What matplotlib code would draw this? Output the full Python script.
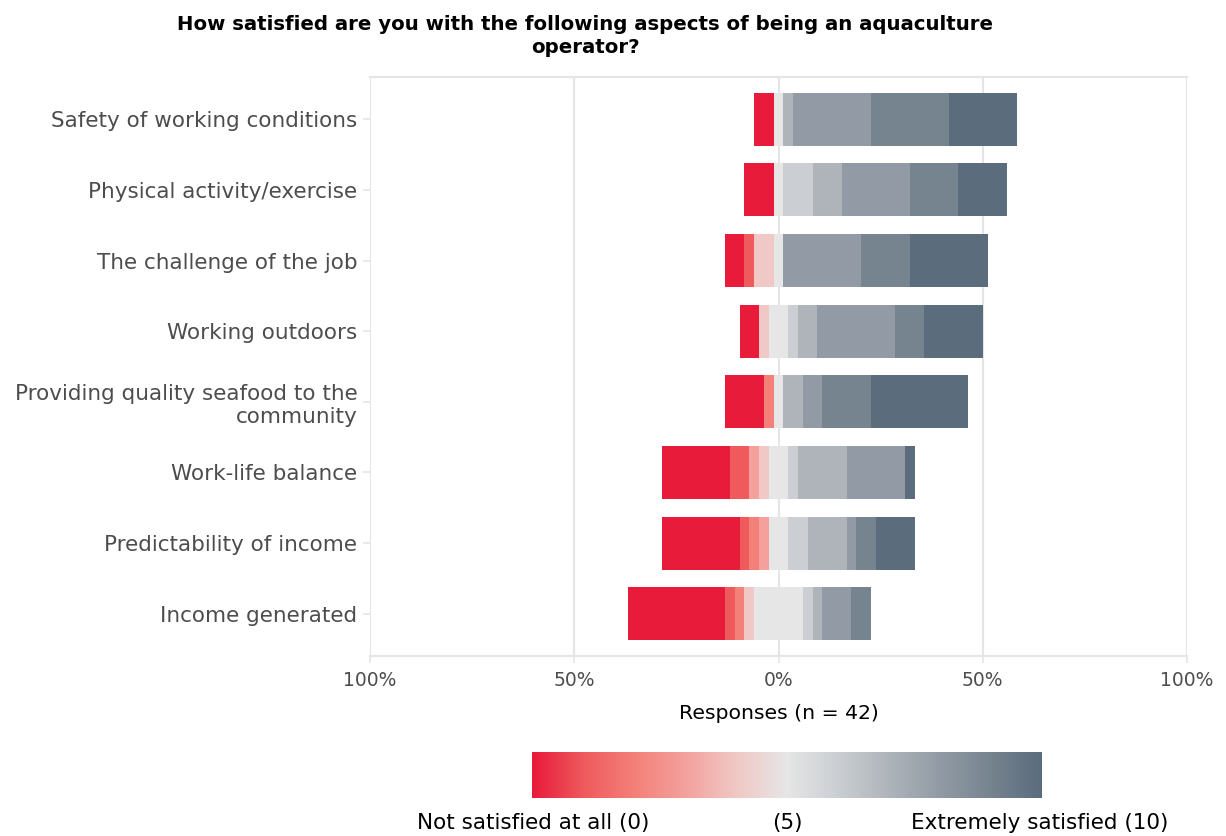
import matplotlib.pyplot as plt
import numpy as np
from matplotlib.colors import LinearSegmentedColormap

# Survey items (top to bottom)
categories = [
    "Safety of working conditions",
    "Physical activity/exercise",
    "The challenge of the job",
    "Working outdoors",
    "Providing quality seafood to the\ncommunity",
    "Work-life balance",
    "Predictability of income",
    "Income generated",
]

# Number of responses per score 0..10 for each item
safety = [2, 0, 0, 0, 0, 1, 0, 1, 8, 8, 7]
physical = [3, 0, 0, 0, 0, 1, 3, 3, 7, 5, 5]
challenge = [2, 1, 0, 0, 2, 1, 0, 0, 8, 5, 8]
outdoors = [2, 0, 0, 0, 1, 2, 1, 2, 8, 3, 6]
seafood = [4, 0, 1, 0, 0, 1, 0, 2, 2, 5, 10]
work_life = [7, 2, 0, 1, 1, 2, 1, 5, 6, 0, 1]
predictability = [8, 1, 1, 1, 0, 2, 2, 4, 1, 2, 4]
income = [10, 1, 1, 0, 1, 5, 1, 1, 3, 2, 0]
counts = [safety, physical, challenge, outdoors, seafood, work_life, predictability, income]

n_total = 42
level_colors = ["#E81B3A", "#EF5A5D", "#F38079", "#F4A19D", "#F0C8C5", "#E6E6E6",
                "#CBCFD3", "#AEB4BA", "#929BA5", "#76848F", "#5B6C7D"]

tick_vals = [-100, -50, 0, 50, 100]
tick_labels = ["100%", "50%", "0%", "50%", "100%"]

grid_col = "#E5E5E5"
text_col = "#4D4D4D"

fig = plt.figure(figsize=(12.26, 8.36), dpi=100)
ax = fig.add_axes([370 / 1226, 1 - 656 / 836, 817 / 1226, 579 / 836])

for i, row in enumerate(counts):
    pct = np.array(row) / n_total * 100
    left = -(pct[:5].sum() + pct[5] / 2)
    y = i + 1
    for lvl, w in enumerate(pct):
        if w > 0:
            ax.barh(y, w, left=left, height=0.75, color=level_colors[lvl],
                    edgecolor="none", zorder=3)
        left += w

ax.set_xlim(-100, 100)
ax.set_ylim(len(categories) + 0.6, 0.4)
ax.set_yticks(range(1, len(categories) + 1))
ax.set_yticklabels(categories, fontsize=15.5, color=text_col, linespacing=1.2)
ax.set_xticks(tick_vals)
ax.set_xticklabels(tick_labels, fontsize=13.5, color=text_col)
ax.tick_params(axis="both", color=grid_col, length=5, width=1.2)
ax.tick_params(axis="y", pad=4)
ax.tick_params(axis="x", pad=6)
ax.grid(axis="x", color=grid_col, linewidth=1.5, zorder=0)
for s in ax.spines.values():
    s.set_color(grid_col)
    s.set_linewidth(1.5)
ax.spines["left"].set_visible(False)
ax.spines["right"].set_visible(False)
ax.set_xlabel("Responses (n = 42)", fontsize=14.7, color="black", labelpad=10)

fig.text(585 / 1226, 1 - 36 / 836,
         "How satisfied are you with the following aspects of being an aquaculture\noperator?",
         ha="center", va="center", fontsize=14.2, fontweight="bold", linespacing=1.3)

# Colour legend
cax = fig.add_axes([532 / 1226, 1 - 798 / 836, 510 / 1226, 46 / 836])
cmap = LinearSegmentedColormap.from_list("sat", level_colors)
cax.imshow(np.linspace(0, 1, 256)[None, :], aspect="auto", cmap=cmap)
cax.set_xticks([])
cax.set_yticks([])
for s in cax.spines.values():
    s.set_visible(False)

legend_y = 1 - 823 / 836
fig.text(533 / 1226, legend_y, "Not satisfied at all (0)", ha="center", va="center", fontsize=15.5)
fig.text(787 / 1226, legend_y, "(5)", ha="center", va="center", fontsize=15.5)
fig.text(1040 / 1226, legend_y, "Extremely satisfied (10)", ha="center", va="center", fontsize=15.5)

plt.savefig("out.png", dpi=100)
